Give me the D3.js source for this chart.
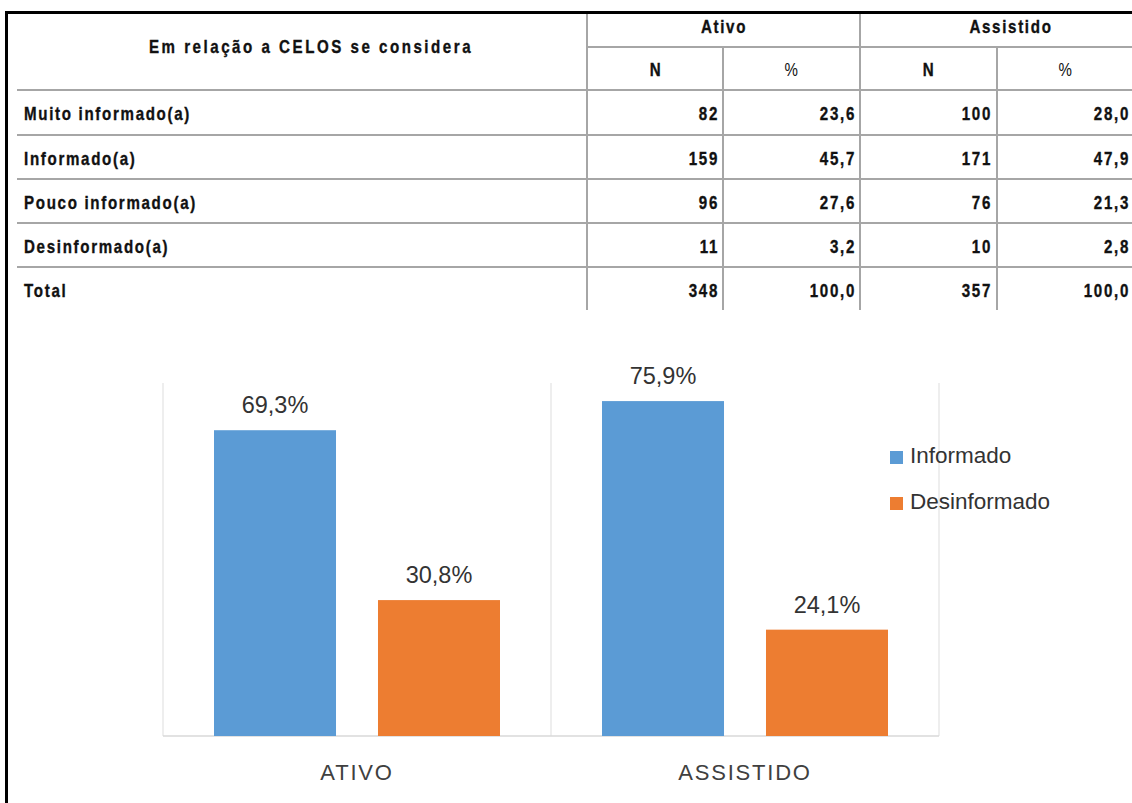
<!DOCTYPE html>
<html><head><meta charset="utf-8">
<script src="https://cdn.jsdelivr.net/npm/d3@7"></script>
<style>
html,body{margin:0;padding:0;background:#fff;}
svg{display:block;}
</style></head>
<body>
<svg id="c" width="1132" height="803"></svg>
<script>
// ---------- data ----------
const tableTitle = "Em relação a CELOS se considera";
const groups = ["Ativo", "Assistido"];
const subCols = ["N", "%"];
const rowLabels = ["Muito informado(a)", "Informado(a)", "Pouco informado(a)", "Desinformado(a)", "Total"];
const ativoN = ["82", "159", "96", "11", "348"];
const ativoPct = ["23,6", "45,7", "27,6", "3,2", "100,0"];
const assistidoN = ["100", "171", "76", "10", "357"];
const assistidoPct = ["28,0", "47,9", "21,3", "2,8", "100,0"];

const categories = ["ATIVO", "ASSISTIDO"];
const series = ["Informado", "Desinformado"];
const informado = [69.3, 75.9];
const desinformado = [30.8, 24.1];
const colors = ["#5B9BD5", "#ED7D31"];

// ---------- svg ----------
const svg = d3.select("#c");
const tblFont = "'Liberation Sans', Arial, sans-serif";
const lineCol = "#a6a6a6";

// borders
svg.append("line").attr("x1",5).attr("x2",1132).attr("y1",12.5).attr("y2",12.5).attr("stroke","#000").attr("stroke-width",3);
svg.append("line").attr("x1",6.5).attr("x2",6.5).attr("y1",11).attr("y2",803).attr("stroke","#000").attr("stroke-width",3);

// table geometry
const rowTops = [90, 135, 179, 223, 267];
const tblBottom = 310;

const g = svg.append("g");
g.append("line").attr("x1",587).attr("x2",1132).attr("y1",47).attr("y2",47).attr("stroke",lineCol).attr("stroke-width",2);
rowTops.forEach(y => {
  g.append("line").attr("x1",17).attr("x2",1132).attr("y1",y).attr("y2",y).attr("stroke",lineCol).attr("stroke-width",2);
});
[587, 860].forEach(x => g.append("line").attr("x1",x).attr("x2",x).attr("y1",14).attr("y2",tblBottom).attr("stroke",lineCol).attr("stroke-width",2));
[723, 997].forEach(x => g.append("line").attr("x1",x).attr("x2",x).attr("y1",47).attr("y2",tblBottom).attr("stroke",lineCol).attr("stroke-width",2));

// narrow-looking bold text (horizontally condensed)
const SX = 0.84;
const txt = (x, y, s, anchor, weight, ls) => g.append("text")
  .attr("transform", `translate(${x},${y}) scale(${SX},1)`)
  .attr("text-anchor", anchor)
  .attr("font-family", tblFont).attr("font-weight", weight).attr("font-size", 18)
  .attr("letter-spacing", (ls || 2) + "px").attr("fill", "#111")
  .attr("stroke", weight === "bold" ? "#111" : "none").attr("stroke-width", 0.35)
  .text(s);

txt(311, 53, tableTitle, "middle", "bold", 3);
txt(724, 33, groups[0], "middle", "bold");
txt(1011, 33, groups[1], "middle", "bold");
txt(656, 76, subCols[0], "middle", "bold");
txt(792, 76, subCols[1], "middle", "normal");
txt(929, 76, subCols[0], "middle", "bold");
txt(1066, 76, subCols[1], "middle", "normal");

const cols = [ativoN, ativoPct, assistidoN, assistidoPct];
const rightEdges = [719, 856, 992, 1130];
rowLabels.forEach((lab, i) => {
  const yb = rowTops[i] + 30;
  txt(24, yb, lab, "start", "bold");
  cols.forEach((c, j) => txt(rightEdges[j], yb, c[i], "end", "bold"));
});

// ---------- bar chart ----------
const chartFont = "'Liberation Sans', Arial, sans-serif";
const plotL = 163, plotR = 939, plotT = 383, plotB = 736;
const x0 = d3.scaleBand().domain(categories).range([plotL, plotR]).paddingInner(0).paddingOuter(0);
const x1 = d3.scaleBand().domain(series).range([0, x0.bandwidth()]).paddingInner(0.256).paddingOuter(0.311);
const y = d3.scaleLinear().domain([0, 80]).range([plotB, plotT]);
const color = d3.scaleOrdinal().domain(series).range(colors);

const cg = svg.append("g");
const bounds = [plotL, ...categories.map(c => x0(c) + x0.bandwidth())];
bounds.forEach(bx => cg.append("line").attr("x1",bx).attr("x2",bx).attr("y1",plotT).attr("y2",plotB)
  .attr("stroke","#e3e3e3").attr("stroke-width",1.2));
cg.append("line").attr("x1",plotL).attr("x2",plotR).attr("y1",plotB).attr("y2",plotB).attr("stroke","#d9d9d9").attr("stroke-width",1.5);

const data = categories.map((c, i) => ({cat: c, vals: [
  {s: series[0], v: informado[i]},
  {s: series[1], v: desinformado[i]}
]}));

const grp = cg.selectAll("g.cat").data(data).join("g").attr("class","cat")
  .attr("transform", d => `translate(${x0(d.cat)},0)`);
grp.selectAll("rect").data(d => d.vals).join("rect")
  .attr("x", d => x1(d.s)).attr("width", x1.bandwidth())
  .attr("y", d => y(d.v)).attr("height", d => plotB - y(d.v))
  .attr("fill", d => color(d.s));
grp.selectAll("text.lbl").data(d => d.vals).join("text").attr("class","lbl")
  .attr("x", d => x1(d.s) + x1.bandwidth()/2).attr("y", d => y(d.v) - 17)
  .attr("text-anchor","middle").attr("font-family", chartFont).attr("font-size", 23.5)
  .attr("fill","#333").text(d => d.v.toFixed(1).replace(".", ",") + "%");

cg.selectAll("text.cat").data(categories).join("text").attr("class","cat")
  .attr("x", d => x0(d) + x0.bandwidth()/2).attr("y", 780)
  .attr("text-anchor","middle").attr("font-family", chartFont).attr("font-size", 22)
  .attr("letter-spacing","1.8px").attr("fill","#404040").text(d => d);

const lg = cg.selectAll("g.leg").data(series).join("g").attr("class","leg")
  .attr("transform", (d, i) => `translate(890,${451 + i * 46})`);
lg.append("rect").attr("width", 13).attr("height", 13).attr("fill", d => color(d));
lg.append("text").attr("x", 20).attr("y", 12).attr("font-family", chartFont).attr("font-size", 22.5)
  .attr("fill","#333").text(d => d);
</script>
</body></html>
